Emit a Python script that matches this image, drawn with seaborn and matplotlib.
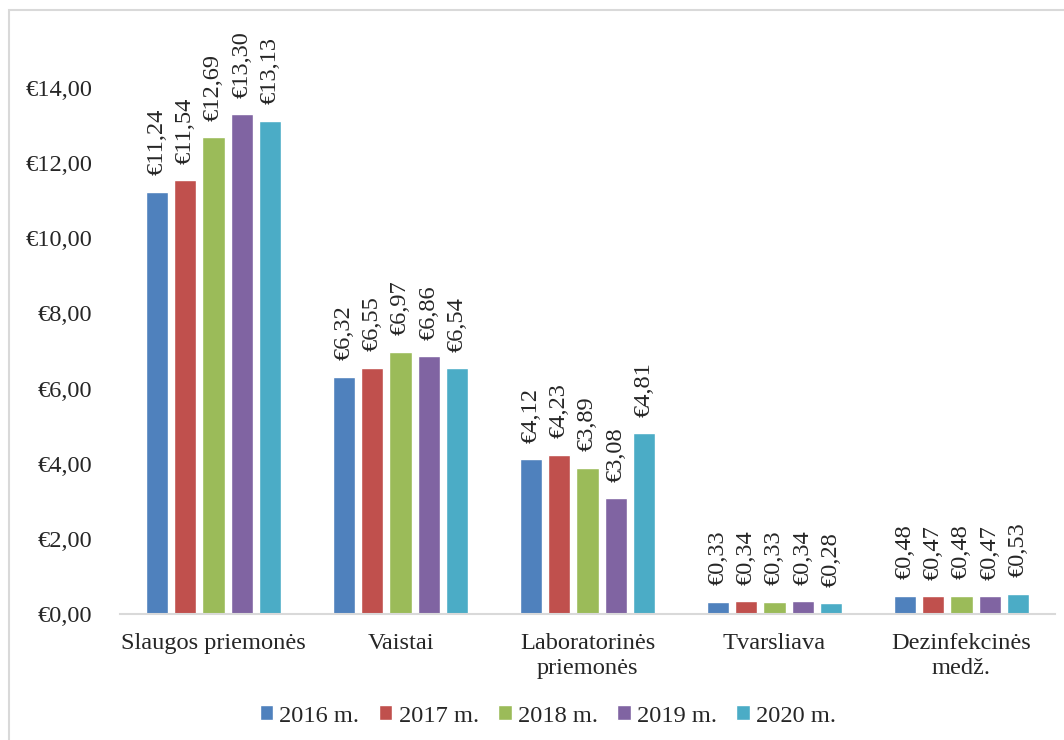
import matplotlib

matplotlib.use("Agg")
import matplotlib.pyplot as plt
import pandas as pd
import seaborn as sns
from matplotlib.patches import Rectangle
from matplotlib.ticker import FuncFormatter

categories = [
    "Slaugos priemonės",
    "Vaistai",
    "Laboratorinės\npriemonės",
    "Tvarsliava",
    "Dezinfekcinės\nmedž.",
]
years = ["2016 m.", "2017 m.", "2018 m.", "2019 m.", "2020 m."]
v2016 = [11.24, 6.32, 4.12, 0.33, 0.48]
v2017 = [11.54, 6.55, 4.23, 0.34, 0.47]
v2018 = [12.69, 6.97, 3.89, 0.33, 0.48]
v2019 = [13.30, 6.86, 3.08, 0.34, 0.47]
v2020 = [13.13, 6.54, 4.81, 0.28, 0.53]
yticks = [0, 2, 4, 6, 8, 10, 12, 14]

palette = ["#4F81BD", "#C0504D", "#9BBB59", "#8064A2", "#4BACC6"]

series = [v2016, v2017, v2018, v2019, v2020]
rows = []
for year, vals in zip(years, series):
    for cat, v in zip(categories, vals):
        rows.append({"kategorija": cat, "metai": year, "kaina": v})
df = pd.DataFrame(rows)


def euro(v):
    return "€" + f"{v:.2f}".replace(".", ",")


sns.set_style("white")
plt.rcParams["font.family"] = ["Liberation Serif", "DejaVu Serif"]
fs = 17.6
plt.rcParams["font.size"] = fs

fig = plt.figure(figsize=(10.64, 7.40), dpi=100)
ax = fig.add_axes([120 / 1064, 126 / 740, 935 / 1064, 526 / 740])

sns.barplot(
    data=df,
    x="kategorija",
    y="kaina",
    hue="metai",
    order=categories,
    hue_order=years,
    palette=palette,
    width=0.76,
    gap=0.22,
    saturation=1,
    ax=ax,
)

for cont, vals in zip(ax.containers, series):
    ax.bar_label(cont, labels=[euro(v) for v in vals], rotation=90, padding=12, fontsize=fs)

ax.set_ylim(0, 14)
ax.set_yticks(yticks)
ax.yaxis.set_major_formatter(FuncFormatter(lambda v, p: euro(v)))
ax.set_xlabel("")
ax.set_ylabel("")
ax.tick_params(axis="both", length=0, labelsize=fs)
ax.tick_params(axis="y", pad=20)
ax.tick_params(axis="x", pad=14)
for lbl in ax.get_xticklabels():
    lbl.set_linespacing(1.25)
ax.set_xlim(-0.5, 4.5)

for s in ["top", "right", "left"]:
    ax.spines[s].set_visible(False)
ax.spines["bottom"].set_color("#D9D9D9")
ax.spines["bottom"].set_linewidth(1.5)

handles, labels = ax.get_legend_handles_labels()
ax.legend_.remove()
fig.legend(
    handles,
    labels,
    loc="center",
    bbox_to_anchor=(0.515, 24 / 740),
    ncol=5,
    frameon=False,
    handlelength=0.55,
    handleheight=0.55,
    handletextpad=0.25,
    columnspacing=0.8,
    fontsize=fs,
)

fig.patches.append(
    Rectangle(
        (9 / 1064, -0.01),
        1.0,
        0.996,
        transform=fig.transFigure,
        fill=False,
        edgecolor="#D9D9D9",
        linewidth=1.5,
    )
)

fig.savefig("out.png", dpi=100, facecolor="white")
